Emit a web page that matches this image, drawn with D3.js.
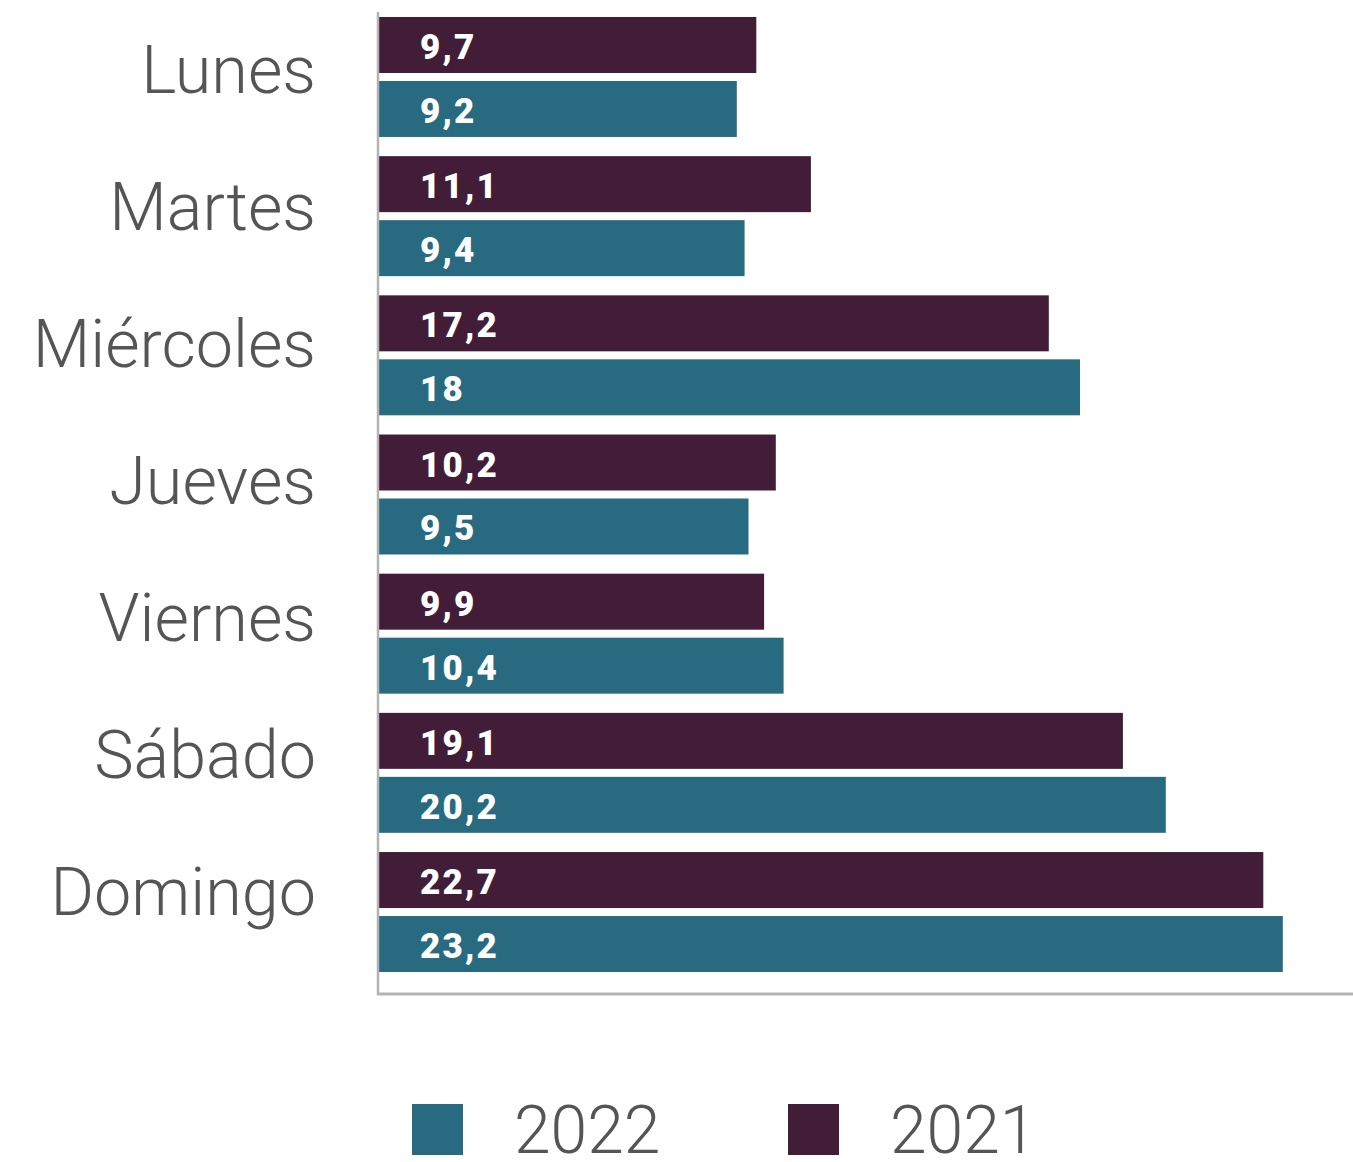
<!DOCTYPE html>
<html>
<head>
<meta charset="utf-8">
<script src="https://cdn.jsdelivr.net/npm/d3@7"></script>
<style>
html,body{margin:0;padding:0;background:#fff;}
svg{display:block;}
</style>
</head>
<body>
<svg id="chart" width="1353" height="1162"></svg>
<script>
const categories = ["Lunes","Martes","Miércoles","Jueves","Viernes","Sábado","Domingo"];
const seriesKeys = ["2021","2022"];
const values2021 = [9.7, 11.1, 17.2, 10.2, 9.9, 19.1, 22.7];
const values2022 = [9.2, 9.4, 18, 9.5, 10.4, 20.2, 23.2];
const valueLabels2021 = ["9,7","11,1","17,2","10,2","9,9","19,1","22,7"];
const valueLabels2022 = ["9,2","9,4","18","9,5","10,4","20,2","23,2"];
const legendKeys = ["2022","2021"];
const colors = {"2021":"#411d38","2022":"#286b80"};

const svg = d3.select("#chart");

const x = d3.scaleLinear().domain([0,25]).range([378,1353]);
const y = d3.scaleBand().domain(categories).range([17,972]).paddingInner(0.138).paddingOuter(0);
const ySub = d3.scaleBand().domain(seriesKeys).range([0,y.bandwidth()]).paddingInner(0.125);
const yLabel = d3.scalePoint().domain(categories).range([93,915]);

const rows = categories.map((c,i)=>({cat:c, items:[
  {key:"2021", v:values2021[i], label:valueLabels2021[i]},
  {key:"2022", v:values2022[i], label:valueLabels2022[i]}
]}));

const g = svg.selectAll("g.cat").data(rows).join("g").attr("class","cat")
  .attr("transform", d=>`translate(0,${y(d.cat)})`);

g.selectAll("rect").data(d=>d.items).join("rect")
  .attr("x", x(0))
  .attr("y", d=>ySub(d.key))
  .attr("width", d=>x(d.v)-x(0))
  .attr("height", ySub.bandwidth())
  .attr("fill", d=>colors[d.key]);

g.selectAll("text.val").data(d=>d.items).join("text").attr("class","val")
  .attr("x", x(0)+42)
  .attr("y", d=>ySub(d.key)+42)
  .attr("fill","#fff")
  .attr("font-family","Roboto")
  .attr("font-weight",900)
  .attr("font-size",35)
  .attr("letter-spacing",2.2)
  .text(d=>d.label);

// category labels
svg.selectAll("text.cat").data(categories).join("text").attr("class","cat")
  .attr("x",316)
  .attr("y", d=>yLabel(d))
  .attr("text-anchor","end")
  .attr("fill","#555")
  .attr("font-family","Roboto")
  .attr("font-weight",300)
  .attr("font-size",66.5)
  .text(d=>d);

// axes lines
svg.append("line").attr("x1",x(0)).attr("x2",x(0)).attr("y1",12).attr("y2",995)
  .attr("stroke","#b3b3b3").attr("stroke-width",2.5);
svg.append("line").attr("x1",x(0)-1).attr("x2",x.range()[1]).attr("y1",994).attr("y2",994)
  .attr("stroke","#b3b3b3").attr("stroke-width",3);

// legend
const legendX = d3.scalePoint().domain(legendKeys).range([412,788]);
const lg = svg.selectAll("g.leg").data(legendKeys).join("g").attr("class","leg")
  .attr("transform", d=>`translate(${legendX(d)},1104)`);
lg.append("rect").attr("width",51).attr("height",51).attr("fill",d=>colors[d]);
lg.append("text").attr("x",102).attr("y",49)
  .attr("fill","#555").attr("font-family","Roboto").attr("font-weight",300)
  .attr("font-size",66).text(d=>d);
</script>
</body>
</html>
